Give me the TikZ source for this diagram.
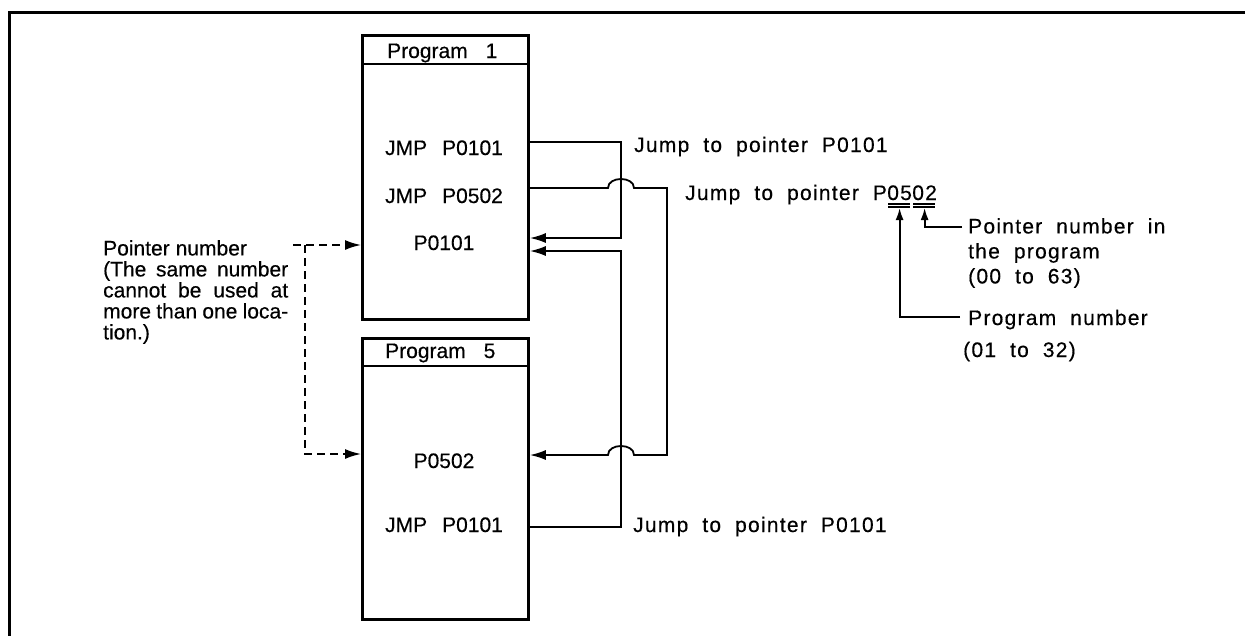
\documentclass[tikz,border=0pt]{standalone}
\usepackage{fontspec}
\setmainfont{Liberation Sans}[FakeBold=0.4]
\newfontfamily\lblfamily{Liberation Sans}[LetterSpace=6,FakeBold=0.4]
\newcommand\txtfont{\fontsize{21}{21}\selectfont\bfseries\spaceskip 15pt\relax}
\newcommand\notefont{\fontsize{21}{21}\selectfont\spaceskip 6pt plus 30pt minus 2pt\relax}
\newcommand\lblfont{\lblfamily\fontsize{21}{25}\selectfont\spaceskip 14pt\relax}
\usetikzlibrary{arrows.meta}
\begin{document}
\begin{tikzpicture}[x=1pt,y=-1pt,
  boxline/.style={draw, line width=2.8pt, inner sep=0pt},
  hdrline/.style={draw, line width=1.6pt, inner sep=0pt},
  txt/.style={font=\fontsize{21}{21}\selectfont\spaceskip 15pt\relax, inner sep=0pt},
  notetxt/.style={font=\notefont, inner sep=0pt, align=left},
  lbl/.style={font=\lblfont, inner sep=0pt},
  conn/.style={line width=1.8pt},
  tipA/.style={-{Latex[length=16pt,width=10pt]}},
  tipB/.style={-{Latex[length=12pt,width=8pt]}},
  dline/.style={line width=1.8pt, dash pattern=on 8pt off 5pt},
  uline/.style={line width=1.4pt}]
\useasboundingbox (0,0) rectangle (1245,635);
% outer frame (runs off the right and bottom edges)
\draw[line width=3pt] (9,660) -- (9,12) -- (1270,12);

% Program 1
\node[hdrline, anchor=north west, minimum width=166pt, minimum height=29pt] (h1) at (361,34) {};
\node[boxline, anchor=north west, minimum width=166pt, minimum height=284pt] (b1) at (361,34) {};
\node[txt, anchor=base west] (h1t) at (387,58) {Program\hspace{3pt} 1};
\node[txt, anchor=base] (t1) at (444,155) {JMP P0101};
\node[txt, anchor=base] (t2) at (444,203) {JMP P0502};
\node[txt, anchor=base] (t3) at (444,250) {P0101};

% Program 5
\node[hdrline, anchor=north west, minimum width=166pt, minimum height=28pt] (h5) at (361,337) {};
\node[boxline, anchor=north west, minimum width=166pt, minimum height=281pt] (b5) at (361,337) {};
\node[txt, anchor=base west] (h5t) at (385,358) {Program\hspace{3pt} 5};
\node[txt, anchor=base] (t4) at (444,468) {P0502};
\node[txt, anchor=base] (t5) at (444,532) {JMP P0101};

% connector end points on the boxes
\coordinate (s1) at ([yshift=-108pt]b1.north east);
\coordinate (s2) at ([yshift=-154pt]b1.north east);
\coordinate (e1) at ([yshift=-204pt]b1.north east);
\coordinate (e2) at ([yshift=-217pt]b1.north east);
\coordinate (e3) at ([yshift=-118pt]b5.north east);
\coordinate (s3) at ([yshift=-190pt]b5.north east);
\coordinate (ptr1) at ([yshift=-211pt]b1.north west);
\coordinate (ptr5) at ([yshift=-117pt]b5.north west);

% jumps
\draw[conn,tipA] (s1) -| (621,238) -- (e1);
\draw[conn,tipA] (s2) -- (608,188) .. controls (608,176) and (634,176) .. (634,188)
   -- (667,188) -- (667,455) -- (634,455) .. controls (634,443) and (608,443) .. (608,455) -- (e3);
\draw[conn,tipA] (s3) -| (621,251) -- (e2);

% labels of jumps
\node[lbl, anchor=base west] (j1) at (634,152) {Jump to pointer P0101};
\node[lbl, anchor=base west] (j2) at (685,200) {Jump to pointer P};
\node[lbl, anchor=base west] (j2b) at (j2.base east) {05};
\node[lbl, anchor=base west] (j2c) at (j2b.base east) {02};
\node[lbl, anchor=base west] (j3) at (633,532) {Jump to pointer P0101};

% double underlines
\draw[uline] ([xshift=1pt,yshift=-4pt]j2b.base west) -- ([xshift=-2pt,yshift=-4pt]j2b.base east);
\draw[uline] ([xshift=1pt,yshift=-7pt]j2b.base west) -- ([xshift=-2pt,yshift=-7pt]j2b.base east);
\draw[uline] ([xshift=1pt,yshift=-4pt]j2c.base west) -- ([xshift=-2pt,yshift=-4pt]j2c.base east);
\draw[uline] ([xshift=1pt,yshift=-7pt]j2c.base west) -- ([xshift=-2pt,yshift=-7pt]j2c.base east);

% explanation of the pointer number
\node[lbl, anchor=north west, align=left] (pin) at (968,218) {Pointer number in\\the program\\(00 to 63)};
\node[lbl, anchor=base west] (pgn) at (968,325) {Program number};
\node[lbl, anchor=base west] (rng) at (963,357) {(01 to 32)};
\draw[conn,tipB] ([xshift=-8pt,yshift=8pt]pgn.base west) -| ([yshift=-8pt]j2b.base);
\draw[conn,tipB] ([xshift=-6pt,yshift=-9pt]pin.north west) -| ([yshift=-8pt]j2c.base);

% pointer number note
\node[notetxt, anchor=north west] (note) at (103,240) {Pointer number\\
\makebox[185pt][s]{(The same number}\\
\makebox[185pt][s]{cannot be used at}\\
\makebox[185pt][s]{more than one loca-}\\
tion.)};
\draw[dline,tipA] (293,245) -- (ptr1);
\draw[dline,tipA] (305,245) -- (305,454) -- (ptr5);
\end{tikzpicture}
\end{document}
